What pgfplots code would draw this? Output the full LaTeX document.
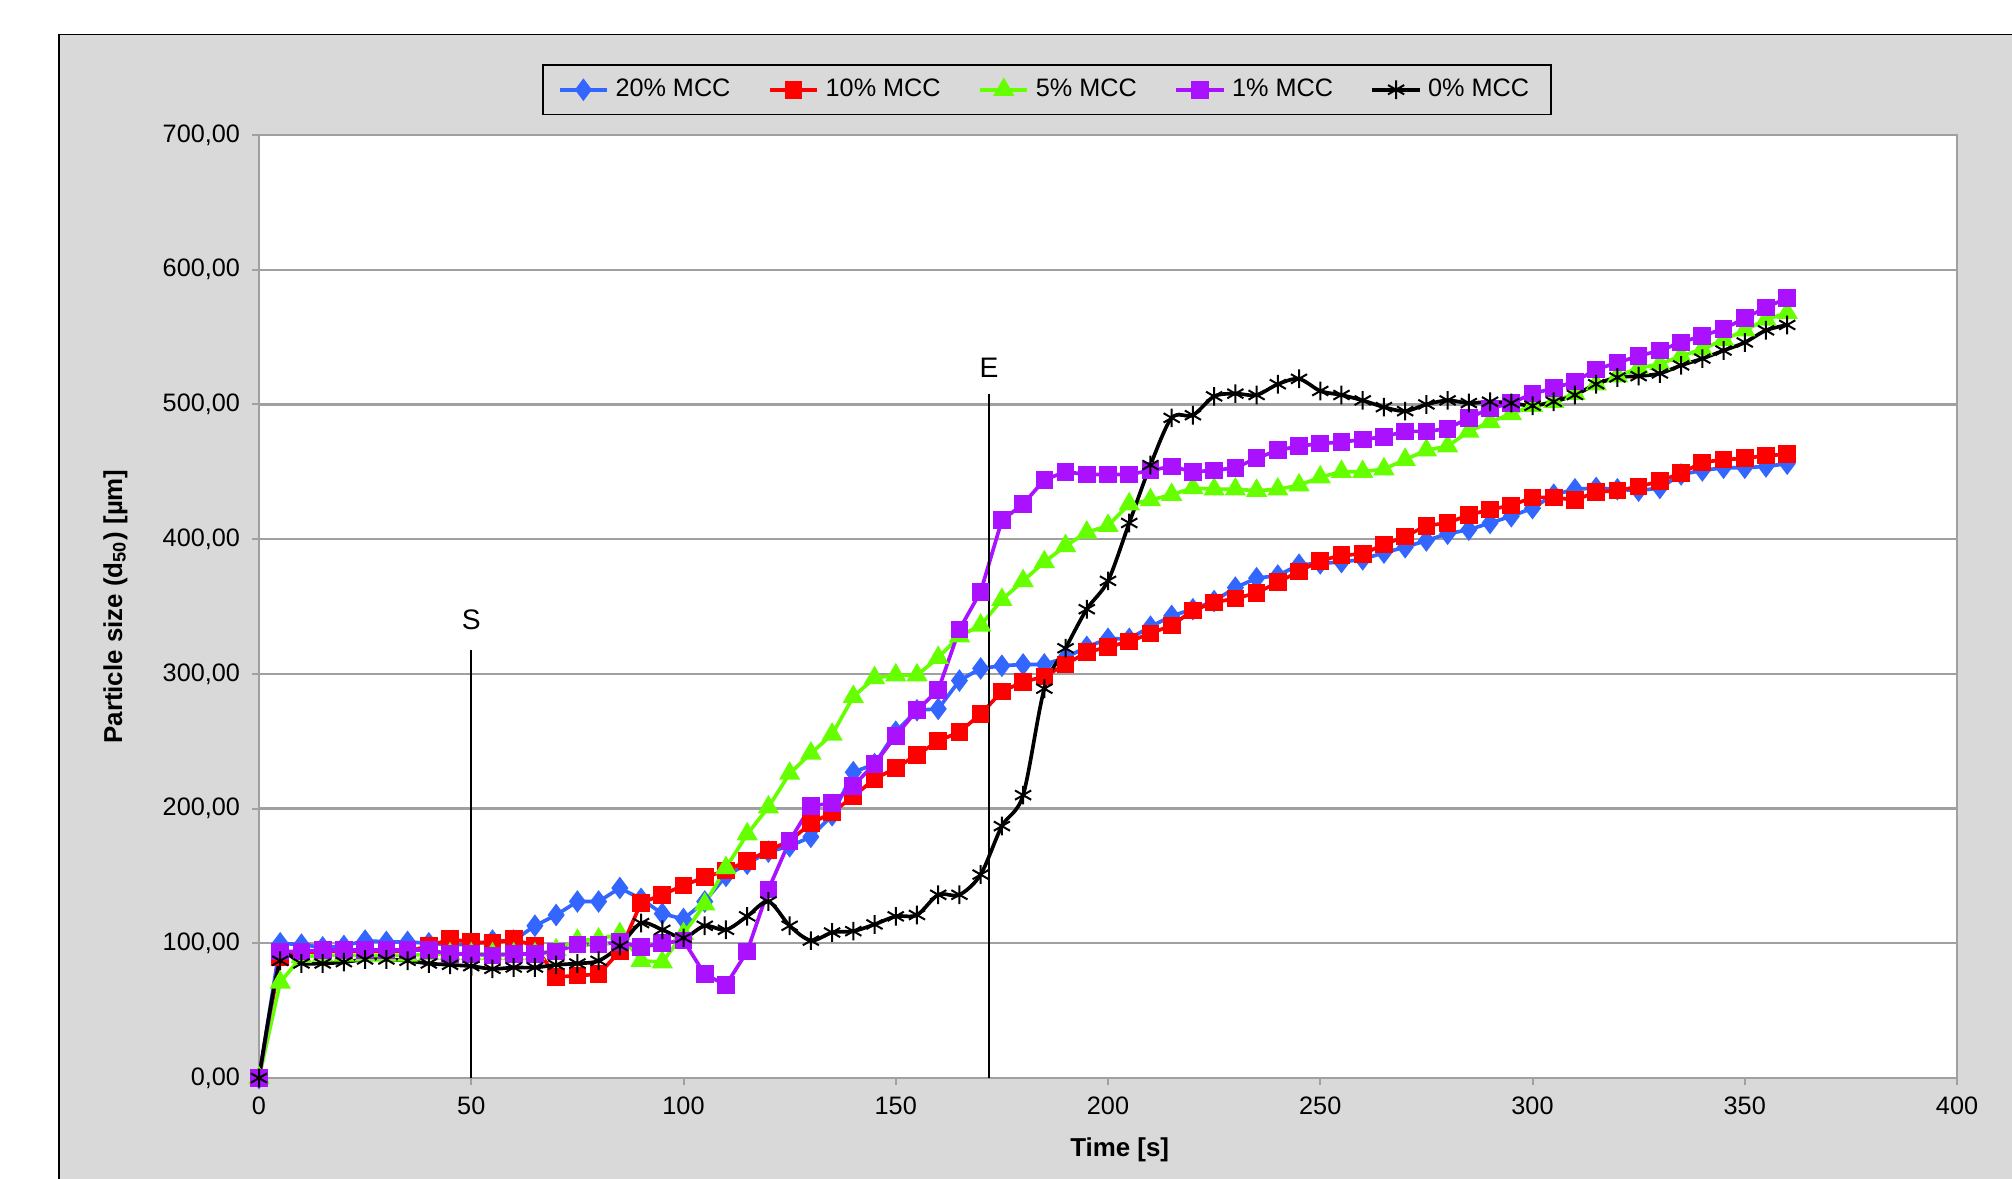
\documentclass[border=0pt]{standalone}
\usepackage{fontspec}
\setmainfont{Liberation Sans}
\usepackage{pgfplots}
\pgfplotsset{compat=1.18}
\definecolor{bgray}{HTML}{D9D9D9}
\definecolor{cblue}{HTML}{3366FF}
\definecolor{cred}{HTML}{FF0000}
\definecolor{cgreen}{HTML}{66FF00}
\definecolor{cpurple}{HTML}{AA11FF}
\definecolor{gridg}{HTML}{A0A0A0}
\begin{document}
\begin{tikzpicture}
\useasboundingbox (0bp,0bp) rectangle (603.6bp,353.7bp);
\fill[white] (0bp,0bp) rectangle (603.6bp,353.7bp);
\fill[bgray] (17.7bp,0bp) rectangle (603.6bp,343.3bp);
\draw[black, line width=0.5bp] (17.7bp,0bp) -- (17.7bp,343.3bp) -- (603.6bp,343.3bp);
\begin{axis}[
  at={(77.7bp,30.3bp)}, anchor=south west,
  scale only axis, width=509.4bp, height=282.9bp,
  xmin=0, xmax=400, ymin=0, ymax=700,
  axis background/.style={fill=white},
  axis line style={gridg, line width=0.6bp},
  ymajorgrids, major grid style={gridg, line width=0.7bp},
  xtick={0,50,...,400}, ytick={0,100,...,700},
  xtick pos=bottom, ytick pos=left,
  tick align=outside, major tick length=2.2bp, tick style={gridg, line width=0.6bp},
  /pgf/number format/assume math mode=true,
  tick label style={font=\fontsize{7.6}{9}\selectfont},
  y tick label style={/pgf/number format/.cd, fixed, fixed zerofill, precision=2, use comma, 1000 sep={}},
  x tick label style={/pgf/number format/.cd, fixed, precision=0, 1000 sep={}},
  xlabel={\textbf{Time [s]}},
  ylabel={\textbf{Particle size (d\textsubscript{50}) [µm]}},
  label style={font=\fontsize{7.8}{9}\selectfont},
  xlabel style={xshift=3.5bp},
  ylabel style={at={(axis description cs:-0.0846,0.5)}, anchor=center},
  legend image code/.code={\draw[mark repeat=2,mark phase=2] plot coordinates {(0cm,0cm) (0.25cm,0cm) (0.5cm,0cm)};},
  legend style={at={(0.464,1.048)}, anchor=center, fill=bgray, draw=black,
    font=\fontsize{7.6}{9}\selectfont, inner xsep=4.5bp, inner ysep=2bp,
    /tikz/every even column/.append style={column sep=9.3bp}},
  legend columns=5,
  legend cell align=left,
]
\addplot[cblue, line width=1.1bp, mark=diamond*, mark size=2.5bp, mark options={fill=cblue}] table {
0 0
5 100
10 99
15 97
20 98
25 102
30 101
35 101
40 100
45 99
50 99
55 102
60 102
65 113
70 121
75 131
80 131
85 141
90 133
95 122
100 118
105 131
110 150
115 159
120 168
125 172
130 179
135 195
140 227
145 233
150 257
155 273
160 274
165 295
170 304
175 306
180 307
185 307
190 312
195 320
200 326
205 326
210 335
215 343
220 348
225 354
230 364
235 371
240 373
245 381
250 382
255 383
260 385
265 390
270 394
275 399
280 404
285 407
290 412
295 417
300 423
305 433
310 437
315 438
320 437
325 436
330 438
335 448
340 451
345 453
350 453
355 454
360 456
};
\addlegendentry{20\% MCC}
\addplot[cred, line width=1.1bp, mark=square*, mark size=2.1bp, mark options={fill=cred}] table {
0 0
5 90
10 93
15 94
20 94
25 94
30 94
35 94
40 98
45 103
50 101
55 100
60 103
65 98
70 75
75 76
80 77
85 94
90 130
95 136
100 143
105 149
110 154
115 161
120 169
125 176
130 189
135 197
140 209
145 222
150 230
155 240
160 250
165 257
170 270
175 287
180 294
185 298
190 307
195 316
200 320
205 324
210 330
215 336
220 347
225 353
230 356
235 360
240 368
245 376
250 384
255 388
260 389
265 396
270 402
275 410
280 412
285 418
290 422
295 425
300 431
305 431
310 429
315 435
320 436
325 439
330 443
335 449
340 457
345 459
350 460
355 462
360 463
};
\addlegendentry{10\% MCC}
\addplot[cgreen, line width=1.1bp, mark=triangle*, mark size=2.6bp, mark options={fill=cgreen}] table {
0 0
5 71
10 90
15 91
20 91
25 91
30 91
35 91
40 92
45 92
50 92
55 92
60 92
65 92
70 95
75 102
80 103
85 107
90 87
95 86
100 107
105 129
110 156
115 181
120 201
125 226
130 241
135 255
140 283
145 297
150 299
155 299
160 312
165 328
170 336
175 355
180 369
185 383
190 395
195 405
200 410
205 426
210 429
215 433
220 438
225 437
230 437
235 436
240 437
245 440
250 446
255 450
260 450
265 452
270 459
275 466
280 469
285 480
290 487
295 493
300 499
305 502
310 508
315 515
320 521
325 527
330 530
335 536
340 541
345 548
350 555
355 563
360 568
};
\addlegendentry{5\% MCC}
\addplot[cpurple, line width=1.1bp, mark=square*, mark size=2.1bp, mark options={fill=cpurple}] table {
0 0
5 94
10 94
15 95
20 95
25 95
30 95
35 95
40 95
45 92
50 92
55 91
60 92
65 92
70 94
75 99
80 99
85 101
90 97
95 100
100 102
105 77
110 69
115 94
120 140
125 176
130 202
135 204
140 217
145 233
150 254
155 273
160 288
165 333
170 361
175 414
180 426
185 444
190 450
195 448
200 448
205 448
210 451
215 454
220 450
225 451
230 453
235 460
240 466
245 469
250 471
255 472
260 474
265 476
270 480
275 480
280 482
285 490
290 497
295 501
300 508
305 512
310 517
315 526
320 531
325 536
330 540
335 546
340 551
345 556
350 564
355 572
360 579
};
\addlegendentry{1\% MCC}
\addplot[black, line width=1.1bp, smooth, tension=0.5, mark=asterisk, mark size=2.8bp, mark options={line width=0.6bp}] table {
0 0
5 87
10 85
15 85
20 86
25 88
30 88
35 87
40 85
45 84
50 83
55 81
60 82
65 82
70 84
75 85
80 87
85 98
90 115
95 110
100 104
105 113
110 110
115 120
120 131
125 113
130 102
135 108
140 109
145 114
150 120
155 121
160 136
165 136
170 151
175 187
180 210
185 289
190 319
195 348
200 369
205 412
210 455
215 490
220 492
225 506
230 508
235 507
240 515
245 519
250 510
255 507
260 503
265 498
270 495
275 500
280 503
285 501
290 502
295 501
300 499
305 502
310 507
315 515
320 520
325 521
330 523
335 529
340 534
345 540
350 546
355 555
360 559
};
\addlegendentry{0\% MCC}
\draw[black, line width=0.6bp] (axis cs:50,0) -- (axis cs:50,318);
\draw[black, line width=0.6bp] (axis cs:172,0) -- (axis cs:172,508);
\node[font=\fontsize{8.5}{10}\selectfont] at (axis cs:50,340) {S};
\node[font=\fontsize{8.5}{10}\selectfont] at (axis cs:172,527) {E};
\end{axis}
\end{tikzpicture}
\end{document}
